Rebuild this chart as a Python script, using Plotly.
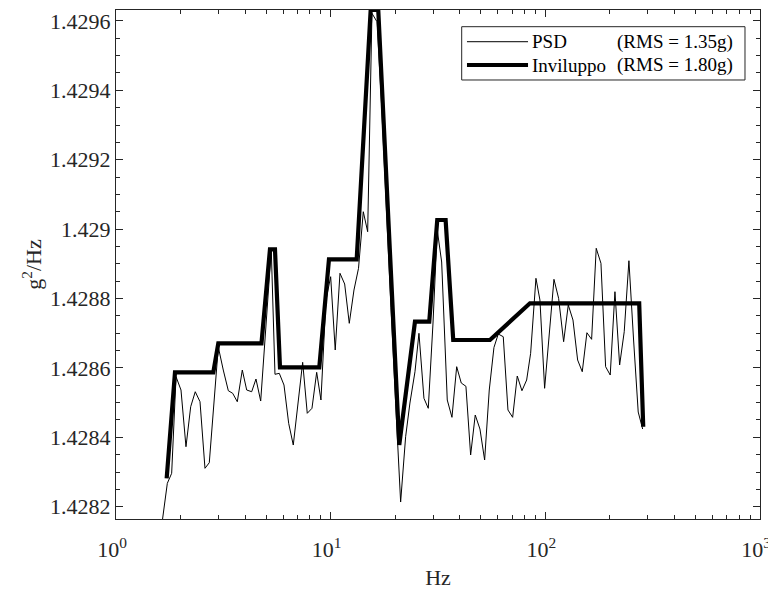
import plotly.graph_objects as go

# ---- data ----
psd_freq = [1.648, 1.734, 1.817, 1.904, 2.008, 2.118, 2.228, 2.340, 2.462, 2.597,
            2.720, 2.855, 2.996, 3.160, 3.336, 3.496, 3.673, 3.876, 4.063, 4.286,
            4.488, 4.721, 4.995, 5.288, 5.503, 5.763, 6.061, 6.374, 6.696, 7.021,
            7.405, 7.780, 8.183, 8.607, 9.010, 9.508, 10.00, 10.50, 11.05, 11.62,
            12.21, 12.84, 13.48, 14.19, 14.87, 15.57, 16.43, 17.25, 18.10, 19.09,
            20.08, 21.18, 22.35, 23.40, 24.70, 25.78, 27.20, 28.49, 29.97, 31.37,
            32.89, 34.92, 36.73, 38.64, 40.58, 42.67, 44.88, 47.15, 49.59, 52.15,
            54.80, 57.63, 60.35, 63.68, 66.97, 70.43, 73.99, 77.82, 81.84, 85.42,
            90.42, 94.37, 99.24, 104.3, 109.7, 115.3, 121.7, 127.9, 134.5, 141.4,
            148.6, 156.2, 164.3, 172.6, 181.6, 190.9, 200.6, 211.0, 221.9, 233.1,
            245.1, 257.7, 270.8, 284.0]
psd_val = [1.4281646, 1.4282674, 1.4282963, 1.4285746, 1.4285363, 1.4283729, 1.4284882, 1.4285314, 1.4285026, 1.4283107,
           1.4283268, 1.4284931, 1.4286602, 1.4285939, 1.4285343, 1.4285268, 1.4285026, 1.4285939, 1.4285363, 1.4285314,
           1.4285680, 1.4285046, 1.4287179, 1.4289398, 1.4285816, 1.4285844, 1.4285507, 1.4284403, 1.4283778, 1.4284988,
           1.4286161, 1.4284692, 1.4284836, 1.4285873, 1.4285075, 1.4287957, 1.4288628, 1.4286516, 1.4288726, 1.4288418,
           1.4287285, 1.4288245, 1.4288870, 1.4290501, 1.4289925, 1.4296219, 1.4295977, 1.4293620, 1.4290677, 1.4287732,
           1.4284965, 1.4282135, 1.4284017, 1.4284988, 1.4285890, 1.4286997, 1.4285124, 1.4284836, 1.4287294, 1.4289974,
           1.4289052, 1.4285075, 1.4284576, 1.4286035, 1.4285565, 1.4285470, 1.4283490, 1.4284643, 1.4284239, 1.4283346,
           1.4285363, 1.4286588, 1.4286977, 1.4286899, 1.4284787, 1.4284576, 1.4285767, 1.4285343, 1.4285651, 1.4286421,
           1.4288582, 1.4287957, 1.4285412, 1.4286948, 1.4288553, 1.4288006, 1.4286755, 1.4287813, 1.4287380, 1.4286228,
           1.4285890, 1.4287014, 1.4286824, 1.4289447, 1.4289014, 1.4286035, 1.4285795, 1.4288196, 1.4286084, 1.4287043,
           1.4289089, 1.4286804, 1.4284729, 1.4284239]

env_freq = [1.722, 1.883, 2.840, 2.996, 4.761, 5.215, 5.503, 5.806, 8.850, 9.820,
            13.22, 15.36, 16.66, 20.87, 24.70, 28.79, 31.37, 34.32, 37.24, 55.21,
            84.79, 273.7, 285.8]
env_val = [1.4282818, 1.4285873, 1.4285873, 1.4286709, 1.4286709, 1.4289418, 1.4289418, 1.4286017, 1.4286017, 1.4289130,
           1.4289130, 1.4296314, 1.4296314, 1.4283778, 1.4287331, 1.4287331, 1.4290262, 1.4290262, 1.4286804, 1.4286804,
           1.4287862, 1.4287862, 1.4284305]

series_names = ["PSD", "Inviluppo"]
series_rms = ["(RMS = 1.35g)", "(RMS = 1.80g)"]

x_tickvals = [1, 10, 100, 1000]
x_ticktext = ["10<sup>0</sup>", "10<sup>1</sup>", "10<sup>2</sup>", "10<sup>3</sup>"]
y_tickvals = [1.4282, 1.4284, 1.4286, 1.4288, 1.4290, 1.4292, 1.4294, 1.4296]
y_ticktext = ["1.4282", "1.4284", "1.4286", "1.4288", "1.429", "1.4292", "1.4294", "1.4296"]

x_minor = [m * 10 ** e for e in range(0, 3) for m in range(2, 10)]
y_minor = [round(1.4282 + i * 0.00005, 6) for i in range(-1, 30) if i % 4 != 0]

FONT = "Liberation Serif, Times New Roman, serif"
AX = "#262626"
widths = [1, 4.2]

fig = go.Figure()
fig.add_trace(go.Scatter(x=psd_freq, y=psd_val, mode="lines",
                         line=dict(color="black", width=widths[0]),
                         name=series_names[0] + " " + series_rms[0], showlegend=False))
fig.add_trace(go.Scatter(x=env_freq, y=env_val, mode="lines",
                         line=dict(color="black", width=widths[1]),
                         name=series_names[1] + " " + series_rms[1], showlegend=False))

axis_common = dict(showgrid=False, zeroline=False, showline=True, linecolor=AX, linewidth=1,
                   ticks="inside", tickcolor=AX, tickwidth=1, mirror="allticks", automargin=False,
                   ticklabeloverflow="allow",
                   tickfont=dict(family=FONT, size=22, color=AX))

# the page body has an 8px margin, so the figure is 8px smaller and offset
fig.update_layout(
    width=768, height=582, autosize=False,
    margin=dict(l=108, r=16, t=2, b=71),
    paper_bgcolor="white", plot_bgcolor="white",
    font=dict(family=FONT, color=AX),
    xaxis=dict(type="log", range=[0, 3], tickmode="array", tickvals=x_tickvals, ticktext=x_ticktext,
               ticklen=7, ticklabelstandoff=11, ticklabelshift=-4,
               minor=dict(tickmode="array", tickvals=x_minor, ticks="inside", ticklen=4, tickcolor=AX),
               title=dict(text="Hz", font=dict(family=FONT, size=22, color=AX), standoff=11),
               **axis_common),
    yaxis=dict(range=[1.4281646, 1.4296314], tickmode="array", tickvals=y_tickvals, ticktext=y_ticktext,
               ticklen=7, ticklabelstandoff=0,
               minor=dict(tickmode="array", tickvals=y_minor, ticks="inside", ticklen=4, tickcolor=AX),
               title=dict(text="g<sup>2</sup>/Hz", font=dict(family=FONT, size=22, color=AX), standoff=2),
               **axis_common),
    showlegend=False,
)

# legend box drawn in the top-right corner of the axes
fig.add_shape(type="rect", xref="paper", yref="paper", x0=0.5368, x1=0.9767, y0=0.8625, y1=0.9672,
              line=dict(color=AX, width=1), fillcolor="white", layer="above")
legend_y = [0.9377, 0.8919]
for i in range(2):
    fig.add_shape(type="line", xref="paper", yref="paper", x0=0.5450, x1=0.6398,
                  y0=legend_y[i], y1=legend_y[i], line=dict(color="black", width=widths[i]), layer="above")
    fig.add_annotation(xref="paper", yref="paper", x=0.6430, y=legend_y[i], xanchor="left", yanchor="middle",
                       text=series_names[i], showarrow=False, font=dict(family=FONT, size=19, color="black"))
    fig.add_annotation(xref="paper", yref="paper", x=0.7750, y=legend_y[i], xanchor="left", yanchor="middle",
                       text=series_rms[i], showarrow=False, font=dict(family=FONT, size=19, color="black"))

fig.write_html("out.html")
